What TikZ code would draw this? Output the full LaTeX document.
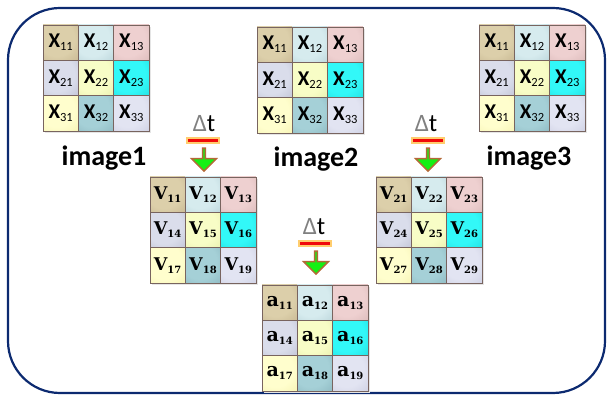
\documentclass[tikz,border=0pt]{standalone}
\usepackage{fontspec}
\setmainfont{Carlito}
\newfontfamily\cellserif{DejaVu Serif}
\usetikzlibrary{shapes.arrows}

% frame and accents
\definecolor{framecol}{RGB}{12,42,112}
\definecolor{cellline}{RGB}{120,100,95}
\definecolor{arrowgreen}{RGB}{20,240,20}
\definecolor{arrowrim}{RGB}{180,105,55}
\definecolor{barred}{RGB}{240,10,10}
\definecolor{barglow}{RGB}{255,205,110}

% cell tones: light centre, deeper rim
\definecolor{in11}{RGB}{220,207,170}\definecolor{out11}{RGB}{150,128,90}
\definecolor{in12}{RGB}{214,235,238}\definecolor{out12}{RGB}{120,160,170}
\definecolor{in13}{RGB}{238,208,208}\definecolor{out13}{RGB}{175,135,135}
\definecolor{in21}{RGB}{218,221,235}\definecolor{out21}{RGB}{130,135,162}
\definecolor{in22}{RGB}{248,253,198}\definecolor{out22}{RGB}{195,205,115}
\definecolor{in23}{RGB}{50,248,248}\definecolor{out23}{RGB}{0,165,172}
\definecolor{in31}{RGB}{255,254,205}\definecolor{out31}{RGB}{225,218,115}
\definecolor{in32}{RGB}{165,208,215}\definecolor{out32}{RGB}{85,130,140}
\definecolor{in33}{RGB}{226,228,242}\definecolor{out33}{RGB}{155,158,190}

\foreach \r in {1,2,3}{\foreach \c in {1,2,3}{%
  \pgfdeclareradialshading{cell\r\c}{\pgfpoint{-8bp}{8bp}}{%
    color(0bp)=(in\r\c); color(25bp)=(in\r\c); color(90bp)=(out\r\c)}}}

% cell contents
\newcommand\glyphx[1]{{\fontsize{21}{21}\selectfont\bfseries X}{\fontsize{12.5}{12.5}\selectfont\raisebox{-3pt}{#1}}}
\newcommand\glyphv[1]{{\cellserif\bfseries\fontsize{17.5}{17.5}\selectfont V}{\cellserif\bfseries\fontsize{10}{10}\selectfont\raisebox{-3pt}{#1}}}
\newcommand\glypha[1]{{\cellserif\bfseries\fontsize{19}{19}\selectfont a}{\cellserif\bfseries\fontsize{10}{10}\selectfont\raisebox{-3pt}{#1}}}

\tikzset{
  cellbox/.style={minimum size=35.33pt, inner sep=0pt, draw=cellline, line width=0.7pt},
  imglabel/.style={font=\fontsize{28}{28}\selectfont\bfseries, anchor=base, inner sep=0pt},
  dtlabel/.style={font=\fontsize{25}{25}\selectfont, inner sep=0pt, anchor=base},
  redbar/.style={fill=barred, draw=barglow, line width=1.2pt, minimum width=32pt, minimum height=5pt, inner sep=0pt},
  downarrow/.style={single arrow, shape border rotate=270, fill=arrowgreen, draw=arrowrim,
    line width=1.4pt, minimum width=25pt, minimum height=23pt, single arrow head extend=6pt,
    single arrow tip angle=90, inner sep=0pt, anchor=tail},
  frameline/.style={draw=framecol, line width=2.2pt, rounded corners=52pt}
}

% 3x3 grid: name, left, top, glyph kind, numbering base (0 = row/column digits)
\newcommand{\cellgrid}[5]{%
  \fill[black!10] (#2+2,#3+2) rectangle (#2+108,#3+108);
  \foreach \r in {1,2,3}{\foreach \c in {1,2,3}{%
    \pgfmathtruncatemacro{\idx}{ifthenelse(#5==0, 10*\r+\c, #5+3*(\r-1)+\c)}
    \node[cellbox, shade, shading=cell\r\c] (#1-\r\c)
      at ({#2+(\c-0.5)*35.33},{#3+(\r-0.5)*35.33}) {\csname glyph#4\endcsname{\idx}};
  }}}

\begin{document}
\begin{tikzpicture}[x=1pt,y=-1pt]
\useasboundingbox (0,0) rectangle (608,398);
\draw[frameline] (8,8) rectangle (605,393);

% input frames
\cellgrid{imgA}{43}{25}{x}{0}
\cellgrid{imgB}{257}{27}{x}{0}
\cellgrid{imgC}{479}{25}{x}{0}
\node[imglabel] (labA) at (104,166) {image1};
\node[imglabel] (labB) at (316,167) {image2};
\node[imglabel] (labC) at (529,166) {image3};

% first differences
\cellgrid{difA}{150}{177}{v}{10}
\cellgrid{difB}{376}{177}{v}{20}

% second difference
\cellgrid{acc}{262}{285}{a}{10}

% time-step markers
\node[dtlabel] (dtA) at (204,131.5) {\textcolor{black!50}{Δ}t};
\node[redbar] (barA) at (203,140.5) {};
\node[downarrow] (arrA) at (204,147.5) {};

\node[dtlabel] (dtB) at (426,131.5) {\textcolor{black!50}{Δ}t};
\node[redbar] (barB) at (428,140.5) {};
\node[downarrow] (arrB) at (428,147.5) {};

\node[dtlabel] (dtC) at (314,234.5) {\textcolor{black!50}{Δ}t};
\node[redbar] (barC) at (315,243.5) {};
\node[downarrow] (arrC) at (316,250.5) {};
\end{tikzpicture}
\end{document}
